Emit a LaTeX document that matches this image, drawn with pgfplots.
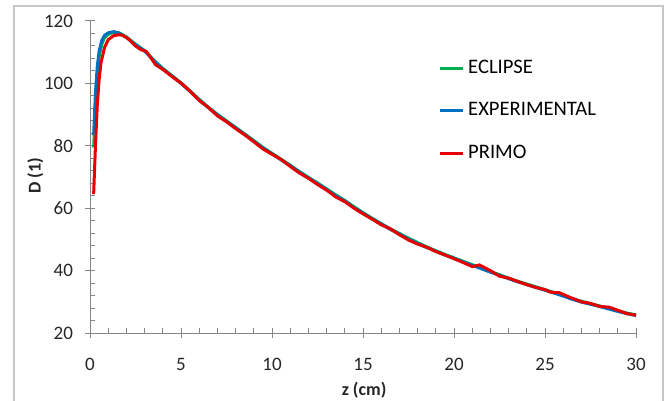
\documentclass[border=0pt]{standalone}
\usepackage{fontspec}
\setmainfont{Carlito}
\usepackage{pgfplots}
\pgfplotsset{compat=1.18}
\definecolor{eclipse}{RGB}{0,176,80}
\definecolor{expcol}{RGB}{0,112,192}
\definecolor{primo}{RGB}{230,0,0}
\definecolor{axgray}{RGB}{134,134,134}
\definecolor{frame}{RGB}{200,200,200}

\begin{document}
\begin{tikzpicture}
% 1 px of the reference = 0.5pt
\useasboundingbox (-45pt,-34pt) rectangle (289.5pt,166.5pt);
\draw[frame, line width=0.6pt] (-38pt,-40pt) rectangle (286.5pt,163.5pt);
\begin{axis}[
  at={(0,0)}, anchor=south west,
  scale only axis,
  width=273pt, height=156pt,
  xmin=0, xmax=30, ymin=20, ymax=120,
  xtick={0,5,...,30}, ytick={20,40,...,120},
  minor x tick num=4, minor y tick num=4,
  axis x line*=bottom, axis y line*=left,
  axis line style={draw=axgray, line width=0.5pt},
  tick style={draw=axgray, line width=0.5pt},
  tick align=center,
  major tick length=5pt, minor tick length=2.5pt,
  minor x tick style={yshift=1.25pt},
  minor y tick style={xshift=1.25pt},
  /pgf/number format/assume math mode=true,
  tick label style={font=\fontsize{9.5}{11}\selectfont, text=black!85},
  yticklabel style={xshift=-2.5pt},
  xticklabel style={yshift=-6.5pt},
  xlabel={\textbf{z (cm)}}, ylabel={\textbf{D (1)}},
  label style={font=\fontsize{9}{11}\selectfont, text=black!85},
  xlabel style={at={(axis description cs:0.502,-0.182)}, anchor=center},
  ylabel style={at={(axis description cs:-0.1,0.503)}, anchor=center, rotate=0},
  legend style={at={(axis description cs:0.637,0.888)}, anchor=north west,
    draw=none, fill=none, inner sep=0pt, row sep=9pt,
    font=\fontsize{10.3}{12}\selectfont},
  legend cell align=left,
  legend image code/.code={\draw[#1] (0pt,0pt) -- (11.5pt,0pt);},
  clip=false,
]
\addplot[eclipse, line width=1.5pt] coordinates {
(0.2,79.5)(0.3,93)(0.4,103)(0.5,108.5)(0.65,112.6)(0.8,114.6)(1.0,115.7)(1.3,116.4)(1.6,116.2)(2.0,114.9)(2.5,112.6)(3.0,110.5)(3.5,107.5)(4.0,104.8)(4.5,102.5)(5.0,100.2)(5.5,97.6)(6.0,94.9)(6.5,92.4)(7.0,90.1)(7.5,88.0)(8.0,85.9)(8.5,83.8)(9.0,81.7)(9.5,79.5)(10.0,77.6)(10.5,75.7)(11.0,73.8)(11.5,71.8)(12.0,69.9)(12.5,68.1)(13.0,66.2)(13.5,64.3)(14.0,62.5)(14.5,60.5)(15.0,58.6)(15.5,56.8)(16.0,55.1)(16.5,53.4)(17.0,51.9)(17.5,50.4)(18.0,49.0)(18.5,47.6)(19.0,46.4)(19.5,45.2)(20.0,44.1)(20.5,43.0)(21.0,41.9)(21.5,40.8)(22.0,39.7)(22.5,38.7)(23.0,37.6)(23.5,36.6)(24.0,35.7)(24.5,34.8)(25.0,33.9)(25.5,33.0)(26.0,32.0)(26.5,31.0)(27.0,30.2)(27.5,29.4)(28.0,28.7)(28.5,27.9)(29.0,27.1)(29.5,26.4)(30.0,25.8)
};
\addlegendentry{ECLIPSE}
\addplot[expcol, line width=1.5pt] coordinates {
(0.2,83.5)(0.3,97)(0.4,105.5)(0.5,110.3)(0.65,113.8)(0.8,115.4)(1.0,116.2)(1.3,116.6)(1.6,116.1)(2.0,114.7)(2.5,112.4)(3.0,110.4)(3.5,107.3)(4.0,104.6)(4.5,102.4)(5.0,100.0)(5.5,97.4)(6.0,94.7)(6.5,92.2)(7.0,89.9)(7.5,87.8)(8.0,85.8)(8.5,83.6)(9.0,81.5)(9.5,79.3)(10.0,77.4)(10.5,75.5)(11.0,73.6)(11.5,71.6)(12.0,69.7)(12.5,67.9)(13.0,66.0)(13.5,64.0)(14.0,62.3)(14.5,60.2)(15.0,58.4)(15.5,56.6)(16.0,54.9)(16.5,53.2)(17.0,51.7)(17.5,50.1)(18.0,48.7)(18.5,47.4)(19.0,46.2)(19.5,45.0)(20.0,43.9)(20.5,42.8)(21.0,41.7)(21.5,40.6)(22.0,39.5)(22.5,38.5)(23.0,37.4)(23.5,36.4)(24.0,35.5)(24.5,34.6)(25.0,33.7)(25.5,32.8)(26.0,31.8)(26.5,30.8)(27.0,29.9)(27.5,29.2)(28.0,28.5)(28.5,27.7)(29.0,26.9)(29.5,26.2)(30.0,25.6)
};
\addlegendentry{EXPERIMENTAL}
\addplot[primo, line width=1.5pt] coordinates {
(0.2,64.5)(0.3,80)(0.4,93)(0.5,101)(0.6,106.5)(0.8,111.5)(1.0,114)(1.3,115.3)(1.6,115.6)(1.8,115.4)(2.1,114.3)(2.5,112)(2.8,110.8)(3.1,110.2)(3.3,108.6)(3.6,106)(4.0,104.5)(4.5,102.2)(5.0,100.1)(5.5,97.5)(6.0,94.5)(6.5,92.3)(7.0,89.6)(7.5,87.7)(8.0,85.5)(8.5,83.5)(9.0,81.3)(9.5,79.0)(10.0,77.3)(10.5,75.6)(11.0,73.4)(11.5,71.3)(12.0,69.6)(12.5,67.6)(13.0,65.8)(13.5,63.6)(14.0,62.1)(14.5,60.0)(15.0,58.2)(15.5,56.5)(16.0,54.7)(16.5,53.4)(17.0,51.5)(17.5,49.8)(18.0,48.5)(18.5,47.5)(19.0,46.1)(19.5,45.0)(20.0,43.8)(20.5,42.6)(21.0,41.3)(21.4,41.8)(22.0,40.0)(22.5,38.2)(23.0,37.6)(23.5,36.5)(24.0,35.5)(24.5,34.6)(25.0,33.9)(25.3,33.1)(25.8,32.9)(26.3,31.6)(27.0,30.0)(27.5,29.5)(28.0,28.5)(28.5,28.3)(29.0,27.3)(29.5,26.2)(30.0,25.7)
};
\addlegendentry{PRIMO}
\end{axis}
\end{tikzpicture}
\end{document}
